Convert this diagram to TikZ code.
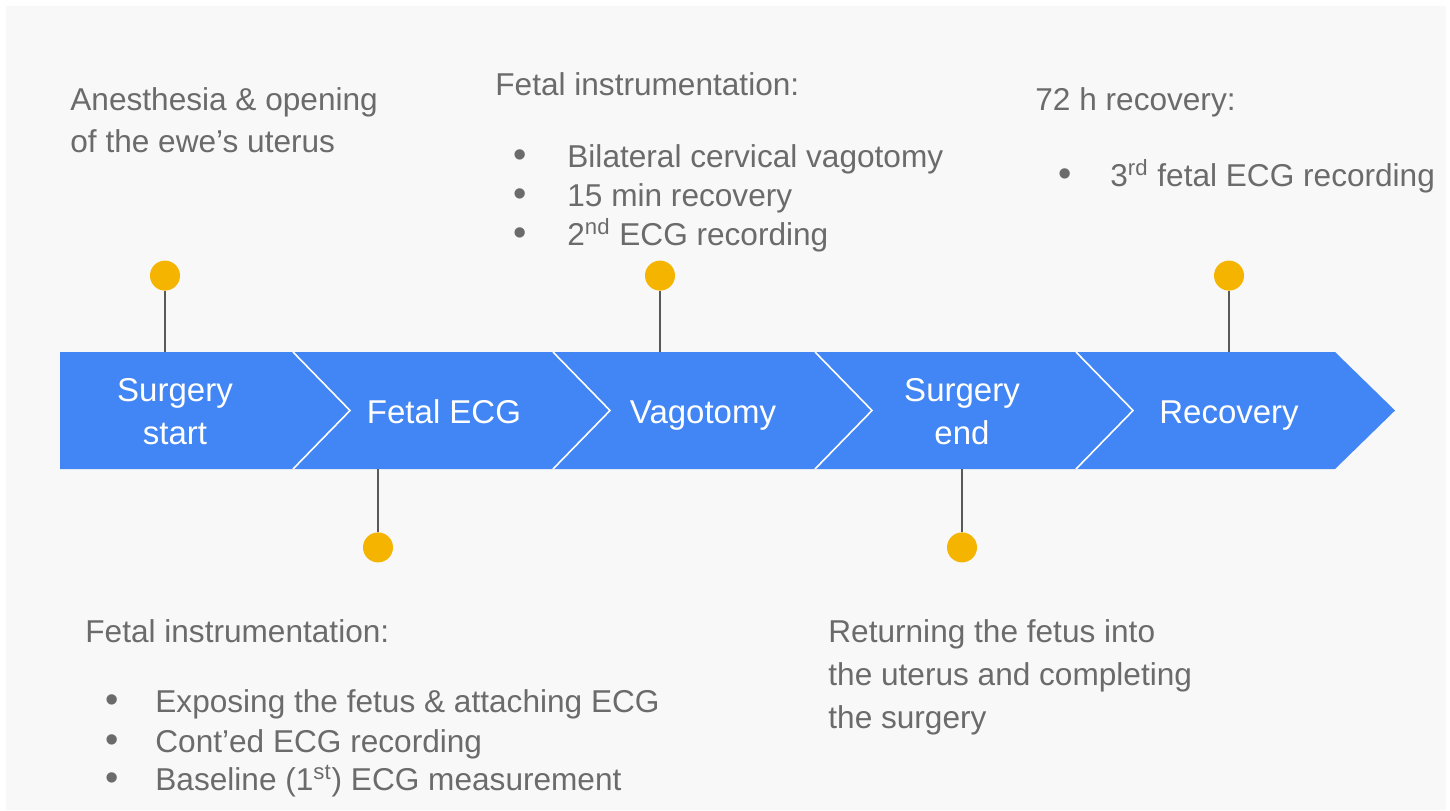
\documentclass[tikz,border=0pt]{standalone}
\usepackage{fontspec}
\setmainfont{Liberation Sans}
\usetikzlibrary{positioning}
\definecolor{bandblue}{HTML}{4285F4}
\definecolor{dotyellow}{HTML}{F4B400}
\definecolor{notegray}{HTML}{6B6B6B}
\definecolor{paper}{HTML}{F8F8F8}
\newcommand{\bul}[1]{\makebox[#1][l]{\fontsize{19}{19}\selectfont\textbullet}}

\begin{document}
\begin{tikzpicture}[x=0.5pt, y=-0.5pt,
    stage/.style={text=white, font=\fontsize{16.5}{21.5}\selectfont, align=center},
    dot/.style={circle, fill=dotyellow, minimum size=15pt, inner sep=0pt},
    stem/.style={draw=black!65, line width=0.6pt},
    note/.style={text=notegray, font=\fontsize{15.8}{20}\selectfont, anchor=base west, inner sep=0pt}]
    \useasboundingbox (0,0) rectangle (1450,810);
    \fill[paper] (6,6) rectangle (1446,810);

    % band of stages
    \fill[bandblue] (60,352) -- (1335,352) -- (1395,410.5) -- (1335,469) -- (60,469) -- cycle;
    \foreach \x in {293,553,815,1076}
        \draw[white, line width=0.8pt] (\x,352) -- (\x+57,410.5) -- (\x,469);

    \node[stage] (s1) at (175,412) {Surgery\\start};
    \node[stage, anchor=base] (s2) at (444,423) {Fetal ECG};
    \node[stage, anchor=base] (s3) at (703,423) {Vagotomy};
    \node[stage] (s4) at (962,412) {Surgery\\end};
    \node[stage, anchor=base] (s5) at (1229,423) {Recovery};

    % stems and dots
    \coordinate (t1) at (165,352);
    \coordinate (b2) at (378,469);
    \coordinate (t3) at (660,352);
    \coordinate (b4) at (962,469);
    \coordinate (t5) at (1229,352);
    \node[dot, above=30.5pt of t1] (d1) {};
    \node[dot, below=31.5pt of b2] (d2) {};
    \node[dot, above=30.5pt of t3] (d3) {};
    \node[dot, below=31.5pt of b4] (d4) {};
    \node[dot, above=30.5pt of t5] (d5) {};
    \draw[stem] (d1) -- (t1);
    \draw[stem] (d2) -- (b2);
    \draw[stem] (d3) -- (t3);
    \draw[stem] (d4) -- (b4);
    \draw[stem] (d5) -- (t5);

    % notes above
    \node[note] (n1a) at (70,110) {Anesthesia \& opening};
    \node[note] (n1b) at (70,152) {of the ewe’s uterus};

    \node[note] (n3) at (495,95) {Fetal instrumentation:};
    \node[note] (n3a) at (513,167) {\bul{27pt}Bilateral cervical vagotomy};
    \node[note] (n3b) at (513,206) {\bul{27pt}15 min recovery};
    \node[note] (n3c) at (513,245) {\bul{27pt}2\textsuperscript{nd} ECG recording};

    \node[note] (n5) at (1035,110) {72 h recovery:};
    \node[note] (n5a) at (1058,186) {\bul{26pt}3\textsuperscript{rd} fetal ECG recording};

    % notes below
    \node[note] (n2) at (85,642) {Fetal instrumentation:};
    \node[note] (n2a) at (105,712) {\bul{25pt}Exposing the fetus \& attaching ECG};
    \node[note] (n2b) at (105,752) {\bul{25pt}Cont’ed ECG recording};
    \node[note] (n2c) at (105,790) {\bul{25pt}Baseline (1\textsuperscript{st}) ECG measurement};

    \node[note] (n4a) at (828,642) {Returning the fetus into};
    \node[note] (n4b) at (828,685) {the uterus and completing};
    \node[note] (n4c) at (828,728) {the surgery};
\end{tikzpicture}
\end{document}
